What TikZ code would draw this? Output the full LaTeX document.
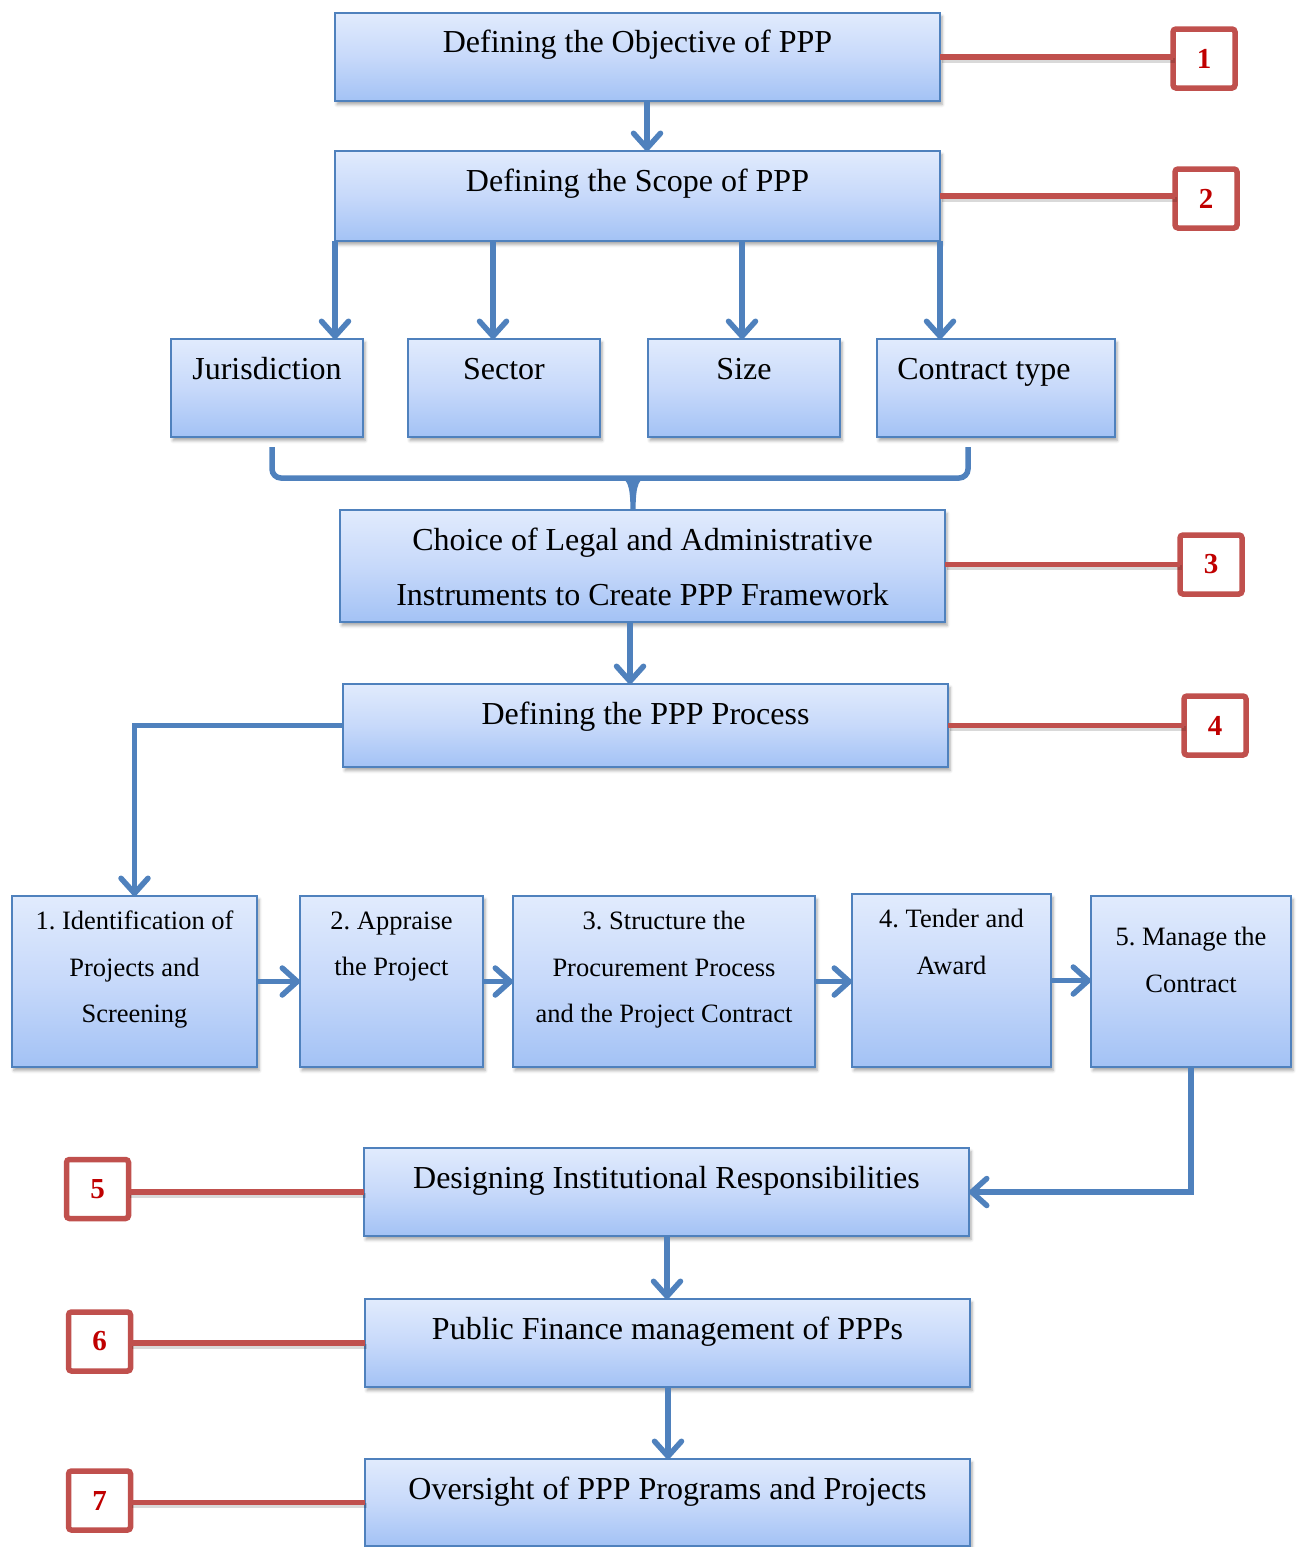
\documentclass[tikz,border=0pt]{standalone}
\usepackage{fontspec}
\setmainfont{Liberation Serif}
\frenchspacing
\usetikzlibrary{arrows.meta,shadows.blur,calc}

\definecolor{boxtop}{RGB}{225,235,253}
\definecolor{boxmid}{RGB}{199,217,250}
\definecolor{boxbot}{RGB}{163,194,245}
\definecolor{boxline}{RGB}{79,129,189}
\definecolor{flow}{RGB}{79,129,189}
\definecolor{tag}{RGB}{192,80,77}
\definecolor{tagtext}{RGB}{192,0,0}

\newcommand\stagefont{\fontsize{32}{55}\selectfont}
\newcommand\stepfont{\fontsize{26.5}{46.5}\selectfont}
\newcommand\tagfont{\fontsize{29}{32}\selectfont\bfseries}

\tikzset{
  stagebox/.style={draw=boxline, line width=1.8pt, top color=boxtop,
    bottom color=boxbot, middle color=boxmid, inner sep=0pt, outer sep=0pt,
    blur shadow={shadow xshift=2pt, shadow yshift=-3.5pt,
      shadow blur radius=3pt, shadow opacity=35}},
  bigtext/.style={font=\stagefont, inner sep=0pt, text height=22pt, text depth=7pt},
  multitext/.style={font=\stagefont, inner sep=0pt, align=center},
  steptext/.style={font=\stepfont, inner sep=0pt, align=center},
  tagbox/.style={draw=tag, line width=5.5pt, rounded corners=3pt, fill=white,
    minimum width=62pt, minimum height=59pt, inner sep=0pt, outer sep=0pt,
    font=\tagfont, text=tagtext},
  softshadow/.style={preaction={draw=black, opacity=0.15, line width=5pt,
    transform canvas={shift={(1.5pt,-3pt)}}}},
  tagline/.style={draw=tag, line width=5.5pt, softshadow},
  flowline/.style={draw=flow, line width=5.5pt},
  flowarrow/.style={flowline, -{Straight Barb[length=15pt, width=27pt, round]}},
}

\begin{document}
\begin{tikzpicture}[x=1pt, y=-1pt]
\useasboundingbox (0,0) rectangle (1300,1547);

% main stages
\node[stagebox, minimum width=605pt, minimum height=88pt] (obj) at (637.5,57) {};
\node[stagebox, minimum width=605pt, minimum height=90pt] (scope) at (637.5,196) {};
\node[stagebox, minimum width=192pt, minimum height=98pt] (jur) at (267,388) {};
\node[stagebox, minimum width=192pt, minimum height=98pt] (sec) at (504,388) {};
\node[stagebox, minimum width=192pt, minimum height=98pt] (siz) at (744,388) {};
\node[stagebox, minimum width=238pt, minimum height=98pt] (con) at (996,388) {};
\node[stagebox, minimum width=605pt, minimum height=112pt] (legal) at (642.5,566) {};
\node[stagebox, minimum width=605pt, minimum height=83pt] (proc) at (645.5,725.5) {};

% process steps
\node[stagebox, minimum width=245pt, minimum height=171pt] (r1) at (134.5,981.5) {};
\node[stagebox, minimum width=183pt, minimum height=171pt] (r2) at (391.5,981.5) {};
\node[stagebox, minimum width=302pt, minimum height=171pt] (r3) at (664,981.5) {};
\node[stagebox, minimum width=199pt, minimum height=173pt] (r4) at (951.5,980.5) {};
\node[stagebox, minimum width=200pt, minimum height=171pt] (r5) at (1191,981.5) {};

\node[stagebox, minimum width=605pt, minimum height=88pt] (inst) at (666.5,1192) {};
\node[stagebox, minimum width=605pt, minimum height=88pt] (fin) at (667.5,1343) {};
\node[stagebox, minimum width=605pt, minimum height=87pt] (ovs) at (667.5,1502.5) {};

% texts
\node[bigtext] (tobj) at (637.5,45) {Defining the Objective of PPP};
\node[bigtext] (tscope) at (637.5,184) {Defining the Scope of PPP};
\node[bigtext] (tjur) at (267,372) {Jurisdiction};
\node[bigtext] (tsec) at (504,372) {Sector};
\node[bigtext] (tsiz) at (744,372) {Size};
\node[bigtext] (tcon) at (984,372) {Contract type};
\node[multitext] (tlegal) at (642.5,567) {Choice of Legal and Administrative\\Instruments to Create PPP Framework};
\node[bigtext] (tproc) at (645.5,717) {Defining the PPP Process};
\node[steptext] (tr1) at (134.5,970) {1. Identification of\\Projects and\\Screening};
\node[steptext] (tr2) at (391.5,946.7) {2. Appraise\\the Project};
\node[steptext] (tr3) at (664,970) {3. Structure the\\Procurement Process\\and the Project Contract};
\node[steptext] (tr4) at (951.5,941.8) {4. Tender and\\Award};
\node[steptext] (tr5) at (1191,960) {5. Manage the\\Contract};
\node[bigtext] (tinst) at (666.5,1181) {Designing Institutional Responsibilities};
\node[bigtext] (tfin) at (667.5,1332) {Public Finance management of PPPs};
\node[bigtext] (tovs) at (667.5,1492) {Oversight of PPP Programs and Projects};

% numbered tags
\node[tagbox] (n1) at (1204,58.5) {1};
\node[tagbox] (n2) at (1206,198.5) {2};
\node[tagbox] (n3) at (1211,564.5) {3};
\node[tagbox] (n4) at (1215,725.5) {4};
\node[tagbox] (n5) at (97.5,1189) {5};
\node[tagbox] (n6) at (99.5,1341.5) {6};
\node[tagbox] (n7) at (99.5,1500.5) {7};

\draw[tagline] (obj.east) -- (obj.east -| n1.west);
\draw[tagline] (scope.east) -- (scope.east -| n2.west);
\draw[tagline] (n3.west) -- (n3.west -| legal.east);
\draw[tagline] (n4.west) -- (n4.west -| proc.east);
\draw[tagline] (inst.west) -- (inst.west -| n5.east);
\draw[tagline] (fin.west) -- (fin.west -| n6.east);
\draw[tagline] (ovs.west) -- (ovs.west -| n7.east);

% vertical guide positions of the connectors
\coordinate (x1) at (647,0);
\coordinate (k1) at (335,0);
\coordinate (k2) at (493,0);
\coordinate (k3) at (742,0);
\coordinate (k4) at (940,0);
\coordinate (x2) at (630,0);
\coordinate (x3) at (667,0);
\coordinate (x4) at (668,0);

\draw[flowarrow] (obj.south -| x1) -- (scope.north -| x1);
\draw[flowarrow] (scope.south -| k1) -- (jur.north -| k1);
\draw[flowarrow] (scope.south -| k2) -- (sec.north -| k2);
\draw[flowarrow] (scope.south -| k3) -- (siz.north -| k3);
\draw[flowarrow] (scope.south -| k4) -- (con.north -| k4);

% brace joining the four scope items
\draw[flowline, rounded corners=9pt] (272,447) -- (272,478) -- (968,478) -- (968,447);
\fill[flow] (614,476) .. controls (628,477) and (630,484) .. (630.5,510)
  -- (635.5,510) .. controls (636,484) and (638,477) .. (652,476) -- cycle;

\draw[flowarrow] (legal.south -| x2) -- (proc.north -| x2);
\draw[flowarrow] (proc.west) -| (r1.north);
\draw[flowarrow] (r1.east) -- (r1.east -| r2.west);
\draw[flowarrow] (r2.east) -- (r2.east -| r3.west);
\draw[flowarrow] (r3.east) -- (r3.east -| r4.west);
\draw[flowarrow] (r4.east) -- (r4.east -| r5.west);
\draw[flowarrow] (r5.south) |- (inst.east);
\draw[flowarrow] (inst.south -| x3) -- (fin.north -| x3);
\draw[flowarrow] (fin.south -| x4) -- (ovs.north -| x4);
\end{tikzpicture}
\end{document}
